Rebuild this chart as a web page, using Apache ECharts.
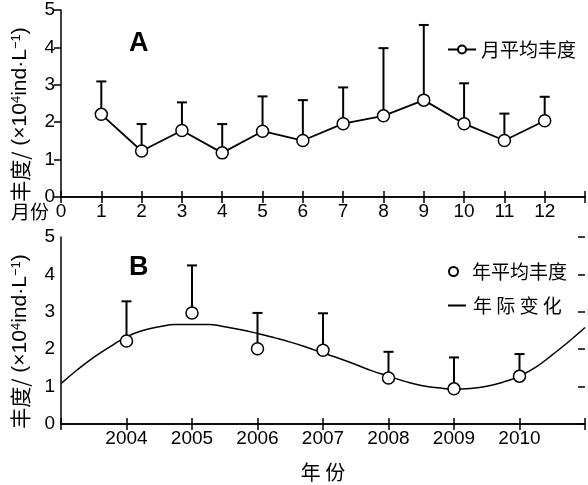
<!DOCTYPE html>
<html><head><meta charset="utf-8">
<script src="https://cdn.jsdelivr.net/npm/echarts@6/dist/echarts.min.js"></script>
<style>html,body{margin:0;padding:0;background:#fff;overflow:hidden}#c{width:588px;height:485px}</style>
</head><body><div id="c"></div>
<script>
// Panel A: monthly mean abundance and upper error
const months = [1,2,3,4,5,6,7,8,9,10,11,12];
const monthMean = [2.21,1.23,1.78,1.18,1.76,1.51,1.96,2.17,2.59,1.96,1.51,2.04];
const monthTop  = [3.09,1.95,2.53,1.95,2.69,2.59,2.93,3.98,4.60,3.04,2.23,2.68];
// Panel B: yearly mean abundance and upper error
const years = [2004,2005,2006,2007,2008,2009,2010];
const yearMean = [2.22,2.97,2.01,1.97,1.23,0.94,1.28];
const yearTop  = [3.28,4.24,2.97,2.96,1.93,1.78,1.87];
// Panel B: inter-annual trend curve
const trendX = [2003,2003.25,2003.5,2003.75,2004,2004.25,2004.5,2004.75,2005,2005.25,2005.5,2005.75,2006,2006.25,2006.5,2006.75,2007,2007.25,2007.5,2007.75,2008,2008.25,2008.5,2008.75,2009,2009.25,2009.5,2009.75,2010,2010.25,2010.5,2010.75,2011];
const trendY = [1.08,1.45,1.78,2.07,2.33,2.50,2.60,2.66,2.66,2.66,2.60,2.52,2.42,2.31,2.19,2.05,1.90,1.75,1.59,1.42,1.28,1.14,1.03,0.97,0.93,0.95,1.01,1.12,1.28,1.52,1.85,2.20,2.58];
const yTicks = [0,1,2,3,4,5];

const FONT = 'Liberation Sans, Arial, Noto Sans CJK SC, sans-serif';
const CJK = 'Noto Sans CJK SC, sans-serif';
const chart = echarts.init(document.getElementById('c'));

function errRender(params, api) {
  const x = api.value(0), top = api.value(2), m = api.value(1);
  const p0 = api.coord([x, m]);
  const p1 = api.coord([x, top]);
  const s = {stroke: '#000', lineWidth: 2};
  return {type: 'group', children: [
    {type: 'line', shape: {x1: p0[0], y1: p0[1], x2: p1[0], y2: p1[1]}, style: s},
    {type: 'line', shape: {x1: p1[0]-5, y1: p1[1], x2: p1[0]+5, y2: p1[1]}, style: s}
  ]};
}

const yNameText = '{c|丰度/} (×10{sup|4}ind·L{sup|−1})';
function yAxisMain(gi) {
  return {
    type: 'value', gridIndex: gi, min: 0, max: 5, interval: 1,
    name: yNameText, nameLocation: 'middle', nameGap: 30, nameRotate: 90,
    nameTextStyle: {fontFamily: FONT, fontSize: 21, color: '#000', padding: [0, 22, 0, 0],
      rich: {sup: {fontSize: 13, fontFamily: FONT, color: '#000', verticalAlign: 'top', lineHeight: 12},
             c: {fontSize: 21, fontFamily: CJK, color: '#000'}}},
    axisLine: {show: true, lineStyle: {color: '#000', width: 1.5}},
    axisTick: {show: false},
    axisLabel: {fontFamily: FONT, fontSize: 19, color: '#000', margin: 6,
      formatter: v => yTicks.includes(v) ? String(v) : ''},
    splitLine: {show: false}
  };
}
function yAxisRight(gi) {
  return {
    type: 'value', gridIndex: gi, min: 0, max: 5, interval: 1, position: 'right',
    axisLine: {show: false},
    axisTick: {show: true, inside: true, length: 7, lineStyle: {color: '#000', width: 1.5}},
    axisLabel: {show: false}, splitLine: {show: false}
  };
}
const tick = {inside: true, length: 6, lineStyle: {color: '#000', width: 1.5}};
const axLine = {lineStyle: {color: '#000', width: 1.5}};

const option = {
  backgroundColor: '#fff',
  animation: false,
  grid: [
    {left: 61, top: 10, width: 529, height: 187},
    {left: 61, top: 237, width: 528, height: 187}
  ],
  xAxis: [
    {type: 'value', gridIndex: 0, min: 0, max: 13, interval: 1,
     axisLine: axLine, axisTick: tick,
     axisLabel: {fontFamily: FONT, fontSize: 19, color: '#000', margin: 5,
       formatter: v => (v <= 12 ? String(v) : '')},
     splitLine: {show: false}},
    {type: 'value', gridIndex: 0, min: 0, max: 13, interval: 1, position: 'top',
     axisLine: axLine, axisTick: tick, axisLabel: {show: false}, splitLine: {show: false}},
    {type: 'value', gridIndex: 1, min: 2003, max: 2011, interval: 1,
     axisLine: axLine, axisTick: tick,
     axisLabel: {fontFamily: FONT, fontSize: 19, color: '#000', margin: 5,
       formatter: v => (years.includes(v) ? String(v) : '')},
     name: '年 份', nameLocation: 'middle', nameGap: 38,
     nameTextStyle: {fontFamily: CJK, fontSize: 20, color: '#000'},
     splitLine: {show: false}},
    {type: 'value', gridIndex: 1, min: 2003, max: 2011, interval: 1, position: 'top',
     axisLine: axLine, axisTick: tick, axisLabel: {show: false}, splitLine: {show: false}}
  ],
  yAxis: [yAxisMain(0), yAxisRight(0), yAxisMain(1), yAxisRight(1)],
  legend: [
    {left: 442, top: 35, orient: 'vertical', itemWidth: 28, itemHeight: 10, itemGap: 10,
     textStyle: {fontFamily: CJK, fontSize: 19, color: '#000'}, data: ['月平均丰度']},
    {left: 443, top: 257, orient: 'vertical', itemWidth: 11, itemHeight: 9,
     textStyle: {fontFamily: CJK, fontSize: 19, color: '#000', padding: [0, 0, 0, 8]},
     data: [{name: '年平均丰度', icon: 'circle'}]},
    {left: 443, top: 291, orient: 'vertical', itemWidth: 18, itemHeight: 2,
     textStyle: {fontFamily: CJK, fontSize: 19, color: '#000', padding: [0, 0, 0, 2]},
     data: [{name: '年 际 变 化', icon: 'rect'}]}
  ],
  graphic: [
    {type: 'text', left: 129, top: 30, style: {text: 'A', font: 'bold 27px ' + FONT, fill: '#000'}},
    {type: 'text', left: 129, top: 254, style: {text: 'B', font: 'bold 27px ' + FONT, fill: '#000'}},
    {type: 'text', left: 11, top: 202, style: {text: '月份', font: '19px ' + CJK, fill: '#000'}}
  ],
  series: [
    {type: 'custom', xAxisIndex: 0, yAxisIndex: 0, renderItem: errRender, z: 1,
     data: months.map((m, i) => [m, monthMean[i], monthTop[i]])},
    {type: 'line', name: '月平均丰度', xAxisIndex: 0, yAxisIndex: 0, z: 3,
     data: months.map((m, i) => [m, monthMean[i]]),
     symbol: 'circle', symbolSize: 12,
     itemStyle: {color: '#fff', borderColor: '#000', borderWidth: 1.5},
     lineStyle: {color: '#000', width: 1.8}},
    {type: 'custom', xAxisIndex: 2, yAxisIndex: 2, renderItem: errRender, z: 1,
     data: years.map((y, i) => [y, yearMean[i], yearTop[i]])},
    {type: 'line', name: '年 际 变 化', xAxisIndex: 2, yAxisIndex: 2, z: 2,
     data: trendX.map((x, i) => [x, trendY[i]]), smooth: true, showSymbol: false, symbol: 'none',
     lineStyle: {color: '#000', width: 1.5}, itemStyle: {color: '#000'}},
    {type: 'scatter', name: '年平均丰度', xAxisIndex: 2, yAxisIndex: 2, z: 3,
     data: years.map((y, i) => [y, yearMean[i]]), symbol: 'circle', symbolSize: 12,
     itemStyle: {color: '#fff', borderColor: '#000', borderWidth: 1.5, opacity: 1}}
  ]
};
chart.setOption(option);
</script></body></html>
